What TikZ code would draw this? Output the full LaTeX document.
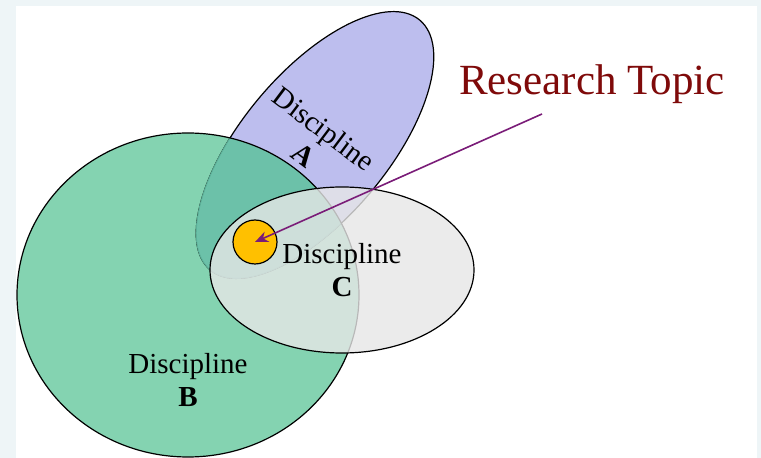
\documentclass[tikz,border=0pt]{standalone}
\usepackage{fontspec}
\setmainfont{Liberation Serif}
\usetikzlibrary{arrows.meta}
\definecolor{frame}{HTML}{EEF5F7}
\definecolor{lavender}{HTML}{BDBEEE}
\definecolor{mint}{HTML}{84D3B1}
\definecolor{mintdark}{HTML}{6CC1A9}
\definecolor{mintline}{HTML}{5BAF97}
\definecolor{paleg}{HTML}{E7E7E7}
\definecolor{amber}{HTML}{FFC000}
\definecolor{maroon}{HTML}{7F0A0A}
\definecolor{plum}{HTML}{7A1C78}
\tikzset{
  rim/.style={draw=black, line width=1.2pt},
  lab/.style={text=black, align=center, font=\fontsize{29}{33}\selectfont},
  toplab/.style={text=maroon, font=\fontsize{43}{48}\selectfont},
  flow/.style={-{Stealth[length=13pt,width=11pt]}, plum, line width=1.6pt},
}

\begin{document}
\begin{tikzpicture}[x=1pt,y=1pt]
  \fill[frame] (0,0) rectangle (761,458);
  \fill[white] (16,0) rectangle (757,452);

  % discipline B (fill first, outline after A)
  \fill[mint] (188,163) ellipse [x radius=171, y radius=162];

  % discipline A
  \begin{scope}[rotate around={50:(315,313)}]
    \fill[lavender] (315,313) ellipse [x radius=163, y radius=73];
    \draw[rim] (315,313) ellipse [x radius=163, y radius=73];
  \end{scope}

  % where A and B meet
  \begin{scope}
    \clip (188,163) ellipse [x radius=171, y radius=162];
    \begin{scope}[rotate around={50:(315,313)}]
      \fill[mintdark] (315,313) ellipse [x radius=163, y radius=73];
      \draw[mintline, line width=1pt] (315,313) ellipse [x radius=163, y radius=73];
    \end{scope}
  \end{scope}
  \draw[rim] (188,163) ellipse [x radius=171, y radius=162];

  % discipline C
  \fill[paleg, fill opacity=0.8] (342,188) ellipse [x radius=132, y radius=83];
  \draw[rim] (342,188) ellipse [x radius=132, y radius=83];

  % the topic itself
  \node[circle, fill=amber, rim, minimum size=44pt, inner sep=0pt] (topic) at (255,216) {};

  \node[lab, rotate=-37] (labA) at (314,316) {Discipline\\\textbf{A}};
  \node[lab] (labB) at (188,78) {Discipline\\\textbf{B}};
  \node[lab] (labC) at (342,188) {Discipline\\\textbf{C}};

  \node[toplab, anchor=base] (rt) at (592,363) {Research Topic};
  \coordinate (rtfoot) at (542,344);
  \draw[flow] (rtfoot) -- (topic.center);
\end{tikzpicture}
\end{document}
